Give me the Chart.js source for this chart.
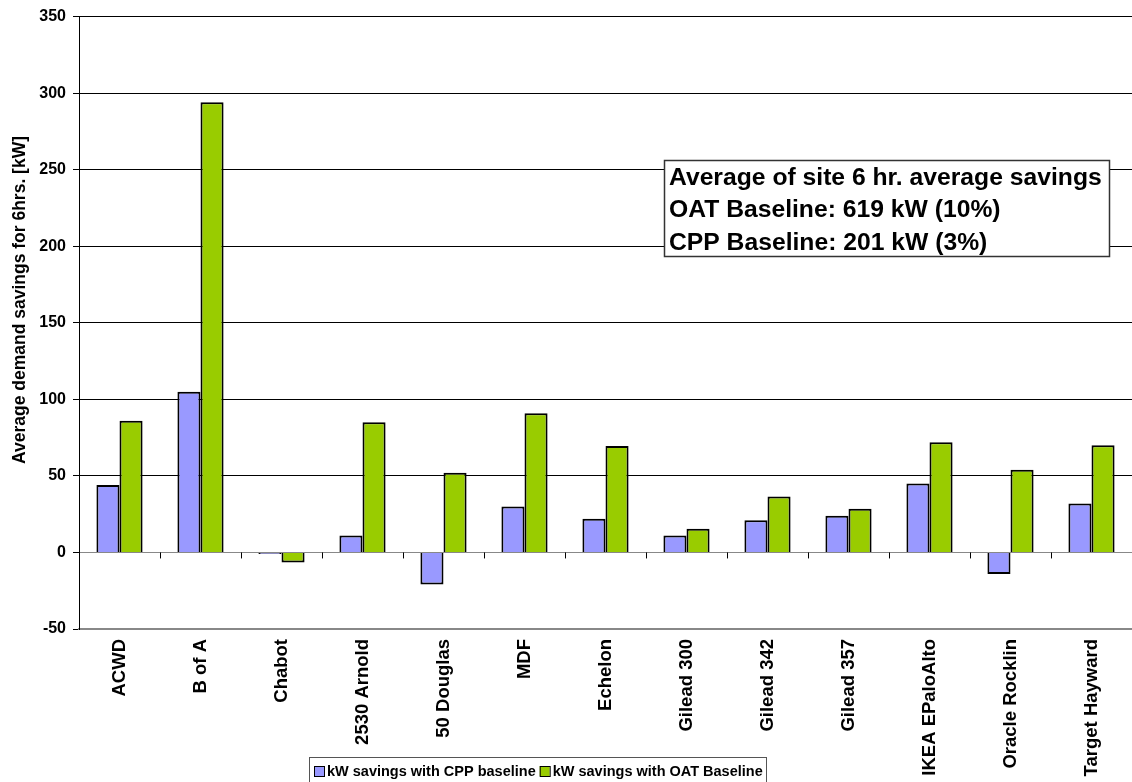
<!DOCTYPE html>
<html>
<head>
<meta charset="utf-8">
<script src="https://cdn.jsdelivr.net/npm/chart.js@4"></script>
<style>
  html, body { margin: 0; padding: 0; background: #fff; }
  #wrap { width: 1132px; height: 782px; position: relative; }
</style>
</head>
<body>
<div id="wrap"><canvas id="savingsChart"></canvas></div>
<script>
// --- data ---
const sites = ['ACWD', 'B of A', 'Chabot', '2530 Arnold', '50 Douglas', 'MDF', 'Echelon',
    'Gilead 300', 'Gilead 342', 'Gilead 357', 'IKEA EPaloAlto', 'Oracle Rocklin', 'Target Hayward'];
const cppSavings = [44, 105, -1, 11, -21, 30, 22, 11, 21, 24, 45, -14, 32];
const oatSavings = [86, 294, -6.5, 85, 52, 91, 69.5, 15.5, 36.5, 28.5, 72, 54, 70];
const yTicks = [-50, 0, 50, 100, 150, 200, 250, 300, 350];
const seriesNames = ['kW savings with CPP baseline', 'kW savings with OAT Baseline'];
const yTitle = 'Average demand savings for 6hrs. [kW]';
const noteLines = ['Average of site 6 hr. average savings', 'OAT Baseline: 619 kW (10%)', 'CPP Baseline: 201 kW (3%)'];

const fontFamily = "'Liberation Sans', Arial, sans-serif";
const cppColor = '#9999FF';
const oatColor = '#99CC00';

// small tick marks on the zero line between categories
const zeroTicks = {
    id: 'zeroTicks',
    afterDatasetsDraw(chart) {
        const { ctx, scales: { x, y } } = chart;
        const y0 = y.getPixelForValue(0);
        ctx.save();
        ctx.strokeStyle = '#000';
        ctx.lineWidth = 1;
        for (let i = 0; i <= sites.length; i++) {
            const px = Math.round(x.getPixelForValue(i - 0.5)) + 0.5;
            ctx.beginPath();
            ctx.moveTo(px, y0);
            ctx.lineTo(px, y0 + 6);
            ctx.stroke();
        }
        ctx.restore();
    }
};

// y title (sits a bit above the middle in the original), note box, boxed legend
const boxes = {
    id: 'boxes',
    afterDraw(chart) {
        const ctx = chart.ctx;
        ctx.save();
        ctx.fillStyle = '#000';
        ctx.font = 'bold 17.5px ' + fontFamily;
        ctx.textAlign = 'center';
        ctx.textBaseline = 'middle';
        ctx.translate(20, 300);
        ctx.rotate(-Math.PI / 2);
        ctx.fillText(yTitle, 0, 0);
        ctx.restore();

        ctx.save();
        // averages note
        ctx.fillStyle = '#fff';
        ctx.fillRect(664, 160, 445, 96);
        ctx.strokeStyle = '#333';
        ctx.lineWidth = 1.5;
        ctx.strokeRect(664.5, 160.5, 445, 96);
        ctx.fillStyle = '#000';
        ctx.font = 'bold 24.7px ' + fontFamily;
        ctx.textBaseline = 'middle';
        noteLines.forEach((t, i) => ctx.fillText(t, 669, 178 + i * 32.5));

        // legend
        ctx.font = 'bold 14.5px ' + fontFamily;
        ctx.strokeStyle = '#555';
        ctx.lineWidth = 1;
        ctx.strokeRect(309.5, 757.5, 457, 26);
        let lx = 314;
        chart.data.datasets.forEach(ds => {
            ctx.fillStyle = ds.backgroundColor;
            ctx.fillRect(lx, 766, 10, 10);
            ctx.strokeStyle = '#000';
            ctx.strokeRect(lx + 0.5, 766.5, 10, 10);
            ctx.fillStyle = '#000';
            ctx.fillText(ds.label, lx + 13, 772);
            lx += 13 + ctx.measureText(ds.label).width + 4;
        });
        ctx.restore();
    }
};

new Chart(document.getElementById('savingsChart'), {
    type: 'bar',
    data: {
        labels: sites,
        datasets: [
            { label: seriesNames[0], data: cppSavings, backgroundColor: cppColor, borderColor: '#000', borderWidth: 2 },
            { label: seriesNames[1], data: oatSavings, backgroundColor: oatColor, borderColor: '#000', borderWidth: 2 }
        ]
    },
    options: {
        responsive: true,
        maintainAspectRatio: false,
        animation: false,
        layout: { padding: { top: 16, right: 0, bottom: 0, left: 0 } },
        categoryPercentage: 0.57,
        barPercentage: 1,
        plugins: {
            legend: { display: false },
            tooltip: { enabled: false }
        },
        scales: {
            x: {
                offset: true,
                grid: { display: false, drawTicks: false },
                border: { display: true, color: '#888', width: 2 },
                ticks: {
                    autoSkip: false,
                    minRotation: 90,
                    maxRotation: 90,
                    padding: 10,
                    color: '#000',
                    font: { family: fontFamily, size: 18.5, weight: 'bold' }
                },
                afterFit: scale => { scale.height = 153; }
            },
            y: {
                min: -50,
                max: 350,
                afterBuildTicks: scale => { scale.ticks = yTicks.map(v => ({ value: v })); },
                grid: {
                    color: ctx => (ctx.tick && ctx.tick.value === 0) ? '#888' : '#000',
                    lineWidth: 1,
                    tickLength: 6,
                    tickColor: '#000'
                },
                border: { display: true, color: '#000', width: 1 },
                ticks: {
                    padding: 7,
                    color: '#000',
                    font: { family: fontFamily, size: 16, weight: 'bold' }
                },
                afterFit: scale => { scale.width = 79; }
            }
        }
    },
    plugins: [zeroTicks, boxes]
});
</script>
</body>
</html>
